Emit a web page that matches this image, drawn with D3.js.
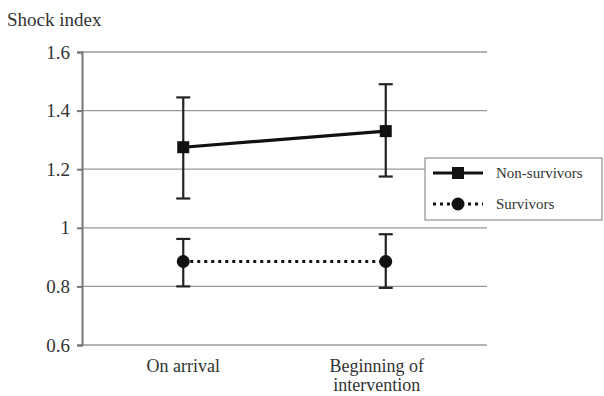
<!DOCTYPE html>
<html>
<head>
<meta charset="utf-8">
<script src="https://cdn.jsdelivr.net/npm/d3@7"></script>
<style>
  body { margin: 0; background: #fff; }
</style>
</head>
<body>
<div id="chart"></div>
<script>
const categories = ["On arrival", "Beginning of intervention"];
const yTicks = [0.6, 0.8, 1, 1.2, 1.4, 1.6];

const nonSurvivorMean = [1.275, 1.33];
const nonSurvivorLow = [1.10, 1.175];
const nonSurvivorHigh = [1.445, 1.49];

const survivorMean = [0.885, 0.885];
const survivorLow = [0.80, 0.795];
const survivorHigh = [0.962, 0.978];

const series = [
  { name: "Non-survivors", mean: nonSurvivorMean, low: nonSurvivorLow, high: nonSurvivorHigh, marker: "square", dash: null },
  { name: "Survivors", mean: survivorMean, low: survivorLow, high: survivorHigh, marker: "circle", dash: "3,4" }
];

const FONT = "Liberation Serif";
const width = 604, height = 396;
const margin = { left: 82, right: 117, top: 52, bottom: 51 };

const svg = d3.select("#chart").append("svg")
  .attr("width", width)
  .attr("height", height)
  .style("display", "block");

const x = d3.scalePoint()
  .domain(categories)
  .range([margin.left, width - margin.right])
  .padding(0.5);

const y = d3.scaleLinear()
  .domain([0.6, 1.6])
  .range([height - margin.bottom, margin.top]);

// gridlines
svg.append("g")
  .selectAll("line")
  .data(yTicks)
  .join("line")
  .attr("x1", margin.left)
  .attr("x2", width - margin.right)
  .attr("y1", d => y(d))
  .attr("y2", d => y(d))
  .attr("stroke", "#999")
  .attr("stroke-width", 1.3);

// y axis
const yAxis = svg.append("g")
  .attr("transform", `translate(${margin.left},0)`)
  .call(d3.axisLeft(y).tickValues(yTicks).tickSize(5).tickPadding(7)
    .tickFormat(d => d === 1 ? "1" : d3.format(".1f")(d)));
yAxis.attr("font-family", FONT).attr("font-size", 19);
yAxis.select(".domain").attr("stroke", "#777").attr("stroke-width", 2);
yAxis.selectAll(".tick line").attr("stroke", "#777").attr("stroke-width", 2);
yAxis.selectAll(".tick text").attr("fill", "#333");

svg.append("text")
  .attr("x", 7)
  .attr("y", 26)
  .attr("fill", "#333")
  .attr("font-family", FONT)
  .attr("font-size", 19)
  .text("Shock index");

// x labels
const xLabels = svg.append("g")
  .attr("font-family", FONT)
  .attr("font-size", 18)
  .attr("fill", "#333")
  .attr("text-anchor", "middle");
xLabels.append("text")
  .attr("x", x(categories[0]))
  .attr("y", 372)
  .text(categories[0]);
const lbl2 = xLabels.append("text")
  .attr("y", 372);
lbl2.append("tspan").attr("x", x(categories[1]) - 9).text("Beginning of");
lbl2.append("tspan").attr("x", x(categories[1]) - 9).attr("dy", 19).text("intervention");

// series
const line = d3.line().x((d, i) => x(categories[i])).y(d => y(d));

series.forEach(s => {
  const g = svg.append("g");
  categories.forEach((c, i) => {
    const cx = x(c);
    g.append("line")
      .attr("x1", cx).attr("x2", cx)
      .attr("y1", y(s.low[i])).attr("y2", y(s.high[i]))
      .attr("stroke", "#222").attr("stroke-width", 2.2);
    [s.low[i], s.high[i]].forEach(v => {
      g.append("line")
        .attr("x1", cx - 7).attr("x2", cx + 7)
        .attr("y1", y(v)).attr("y2", y(v))
        .attr("stroke", "#222").attr("stroke-width", 2.2);
    });
  });
  g.append("path")
    .datum(s.mean)
    .attr("d", line)
    .attr("fill", "none")
    .attr("stroke", "#111")
    .attr("stroke-width", 3.2)
    .attr("stroke-dasharray", s.dash);
  s.mean.forEach((v, i) => {
    if (s.marker === "square") {
      g.append("rect")
        .attr("x", x(categories[i]) - 6).attr("y", y(v) - 6)
        .attr("width", 12).attr("height", 12)
        .attr("fill", "#111");
    } else {
      g.append("circle")
        .attr("cx", x(categories[i])).attr("cy", y(v))
        .attr("r", 6.5).attr("fill", "#111");
    }
  });
});

// legend
const legend = svg.append("g");
legend.append("rect")
  .attr("x", 425).attr("y", 158)
  .attr("width", 177).attr("height", 62)
  .attr("fill", "#fff")
  .attr("stroke", "#999")
  .attr("stroke-width", 1.3);

series.forEach((s, i) => {
  const ly = 173 + i * 31;
  legend.append("line")
    .attr("x1", 433).attr("x2", 483)
    .attr("y1", ly).attr("y2", ly)
    .attr("stroke", "#111").attr("stroke-width", 3.2)
    .attr("stroke-dasharray", s.dash);
  if (s.marker === "square") {
    legend.append("rect")
      .attr("x", 452).attr("y", ly - 6)
      .attr("width", 12).attr("height", 12)
      .attr("fill", "#111");
  } else {
    legend.append("circle")
      .attr("cx", 458).attr("cy", ly).attr("r", 6.5).attr("fill", "#111");
  }
  legend.append("text")
    .attr("x", 496).attr("y", ly + 5)
    .attr("fill", "#333")
    .attr("font-family", FONT)
    .attr("font-size", 15)
    .text(s.name);
});
</script>
</body>
</html>
